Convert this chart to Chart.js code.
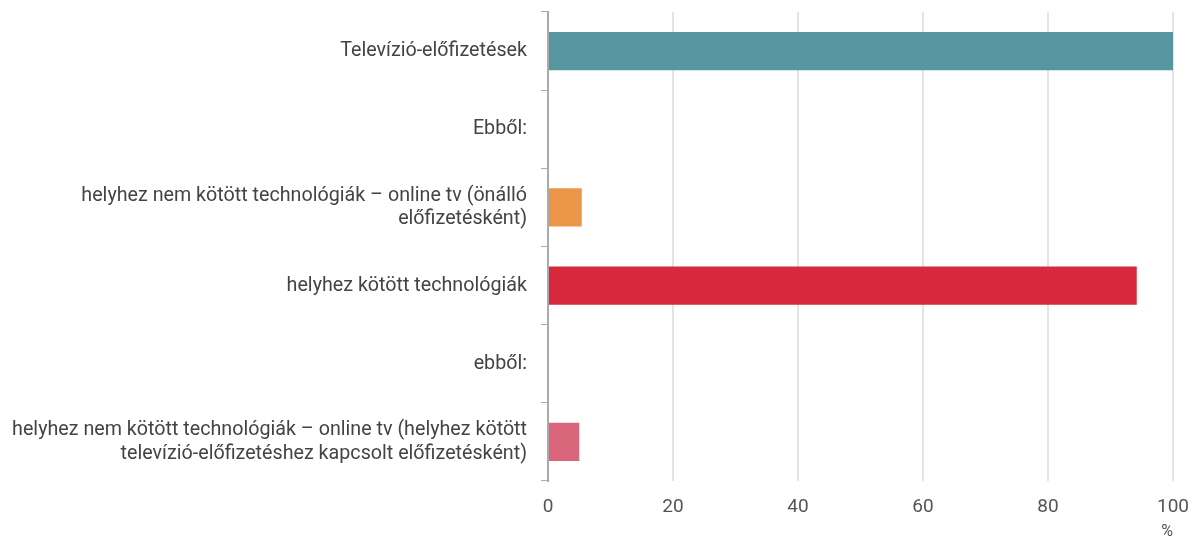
<!DOCTYPE html>
<html>
<head>
<meta charset="utf-8">
<script src="https://cdn.jsdelivr.net/npm/chart.js@4"></script>
<style>
  body { margin: 0; background: #fff; }
</style>
</head>
<body>
<canvas id="myChart" width="1190" height="541"></canvas>
<script>
// adatok
const categories = [
  "Televízió-előfizetések",
  "Ebből:",
  ["helyhez nem kötött technológiák – online tv (önálló", "előfizetésként)"],
  "helyhez kötött technológiák",
  "ebből:",
  ["helyhez nem kötött technológiák – online tv (helyhez kötött", "televízió-előfizetéshez kapcsolt előfizetésként)"],
];
const values = [100, null, 5.4, 94.2, null, 5.0];
const barColors = ["#5795a0", "#ffffff", "#ec9649", "#d7283d", "#ffffff", "#d9667a"];
const xTicks = [0, 20, 40, 60, 80, 100];

Chart.defaults.font.family = "Roboto, 'Noto Sans', sans-serif";
Chart.defaults.font.size = 19;

// tengely-padding nullázása, hogy a rajzterület pontosan illeszkedjen
function noPad(s) {
  s.paddingTop = 0;
  s.paddingBottom = 0;
  s.paddingLeft = 0;
  s.paddingRight = 0;
}

const ctx = document.getElementById("myChart").getContext("2d");
const myChart = new Chart(ctx, {
  type: "bar",
  data: {
    labels: categories,
    datasets: [
      {
        data: values,
        backgroundColor: barColors,
        barPercentage: 0.49,
        categoryPercentage: 1,
      },
    ],
  },
  options: {
    indexAxis: "y",
    responsive: false,
    animation: false,
    layout: { padding: { top: 12, right: 17, bottom: 0, left: 0 } },
    plugins: {
      legend: { display: false },
      tooltip: { enabled: false },
    },
    scales: {
      x: {
        min: 0,
        max: 100,
        afterBuildTicks: (s) => {
          s.ticks = xTicks.map((v) => ({ value: v }));
        },
        afterFit: (s) => {
          noPad(s);
          s.height = 60;
        },
        grid: { color: "#e4e4e4", lineWidth: 2, drawTicks: false },
        border: { display: false },
        ticks: { color: "#555", padding: 15 },
        title: {
          display: true,
          text: "%",
          align: "end",
          color: "#555",
          font: { size: 16 },
          padding: { top: 2, bottom: -1 },
        },
      },
      y: {
        afterFit: (s) => {
          noPad(s);
          s.width = 548;
        },
        grid: { drawOnChartArea: false, tickLength: 7, color: "#aaaaaa" },
        border: { color: "#aaaaaa", width: 2 },
        ticks: { color: "#444", padding: 14, autoSkip: false, font: { size: 19.7 } },
      },
    },
  },
});
</script>
</body>
</html>
